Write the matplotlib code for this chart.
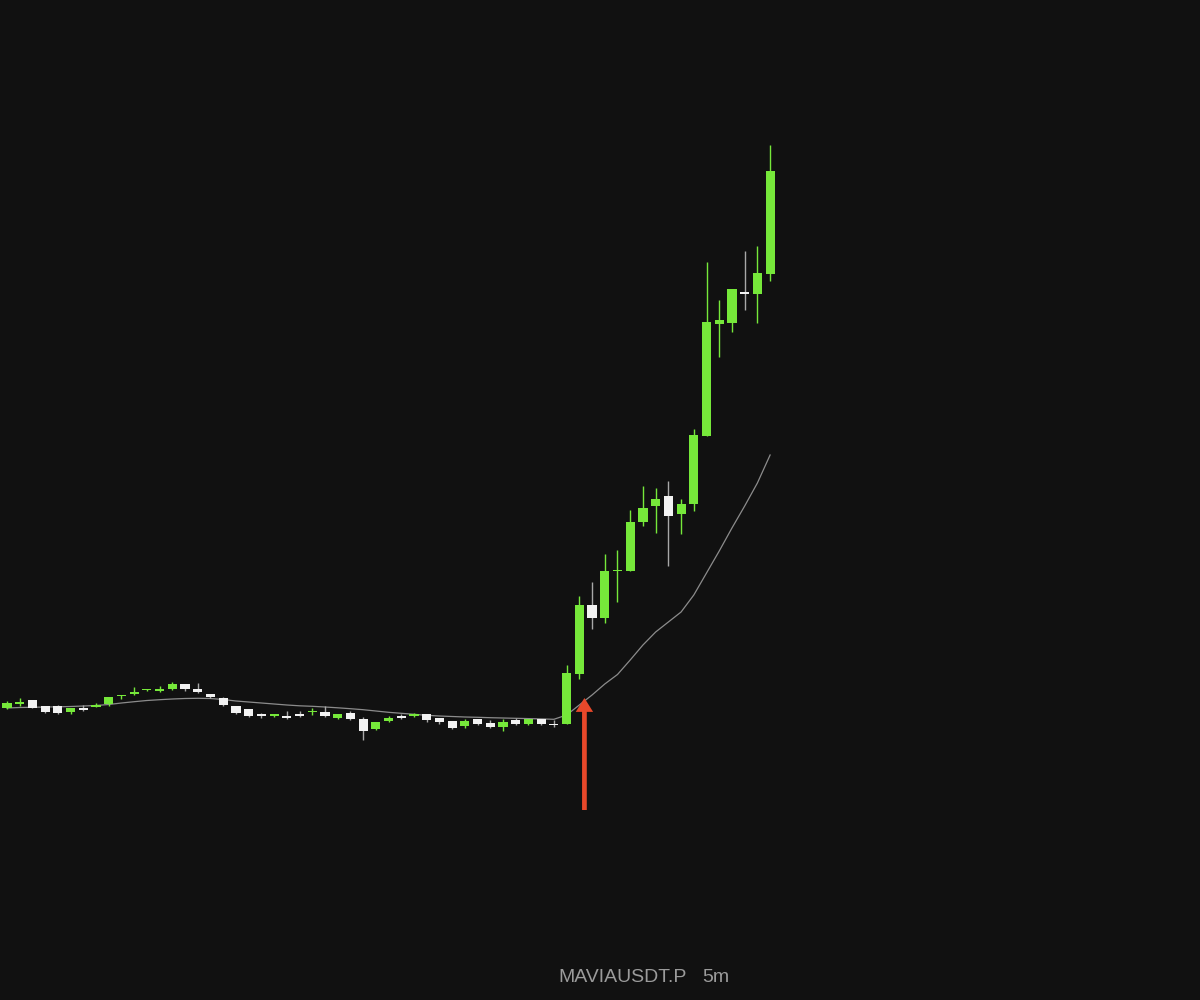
import matplotlib
matplotlib.use("Agg")
import matplotlib.pyplot as plt
from matplotlib.patches import FancyArrowPatch
import numpy as np

# 5m candles, MAVIAUSDT.P (prices)
opens = [0.292, 0.296, 0.300, 0.294, 0.294, 0.288, 0.292, 0.293, 0.296, 0.304,
         0.306, 0.310, 0.309, 0.311, 0.316, 0.311, 0.306, 0.302, 0.294, 0.291,
         0.286, 0.284, 0.284, 0.286, 0.288, 0.288, 0.282, 0.287, 0.281, 0.271,
         0.279, 0.284, 0.284, 0.286, 0.282, 0.279, 0.274, 0.281, 0.277, 0.273,
         0.280, 0.276, 0.281, 0.276, 0.276, 0.326, 0.395, 0.382, 0.429, 0.429,
         0.478, 0.494, 0.504, 0.486, 0.496, 0.564, 0.676, 0.677, 0.708, 0.706,
         0.726]
highs = [0.299, 0.302, 0.300, 0.294, 0.295, 0.292, 0.295, 0.297, 0.303, 0.3055,
         0.313, 0.311, 0.314, 0.318, 0.316, 0.317, 0.306, 0.303, 0.294, 0.291,
         0.2875, 0.286, 0.289, 0.2895, 0.2925, 0.294, 0.286, 0.289, 0.283, 0.278,
         0.284, 0.286, 0.2875, 0.286, 0.282, 0.279, 0.281, 0.281, 0.280, 0.281,
         0.282, 0.281, 0.281, 0.280, 0.335, 0.404, 0.418, 0.446, 0.450, 0.490,
         0.514, 0.512, 0.519, 0.501, 0.571, 0.738, 0.700, 0.711, 0.749, 0.754,
         0.855]
lows = [0.2915, 0.294, 0.292, 0.287, 0.2865, 0.286, 0.2895, 0.293, 0.294, 0.301,
        0.305, 0.309, 0.3085, 0.3105, 0.309, 0.3075, 0.3025, 0.2945, 0.2865, 0.2835,
        0.2825, 0.283, 0.2815, 0.2835, 0.285, 0.2835, 0.2815, 0.2805, 0.260, 0.270,
        0.278, 0.281, 0.2835, 0.278, 0.2765, 0.2715, 0.2725, 0.275, 0.2725, 0.269,
        0.2755, 0.2755, 0.275, 0.273, 0.276, 0.321, 0.371, 0.377, 0.398, 0.429,
        0.474, 0.467, 0.434, 0.466, 0.489, 0.564, 0.643, 0.668, 0.690, 0.677,
        0.719]
closes = [0.297, 0.298, 0.292, 0.288, 0.287, 0.292, 0.290, 0.295, 0.303, 0.305,
          0.308, 0.311, 0.311, 0.316, 0.311, 0.308, 0.303, 0.295, 0.287, 0.284,
          0.284, 0.286, 0.282, 0.284, 0.289, 0.284, 0.286, 0.281, 0.269, 0.278,
          0.282, 0.282, 0.286, 0.280, 0.278, 0.272, 0.279, 0.276, 0.273, 0.278,
          0.276, 0.281, 0.276, 0.275, 0.327, 0.395, 0.382, 0.429, 0.430, 0.478,
          0.492, 0.501, 0.484, 0.496, 0.565, 0.678, 0.680, 0.711, 0.706, 0.727,
          0.829]
# moving average overlay
ma = [0.292, 0.2925, 0.2927, 0.293, 0.2932, 0.2935, 0.294, 0.2945, 0.2955, 0.297,
      0.2983, 0.2995, 0.3003, 0.301, 0.3015, 0.3017, 0.3015, 0.3005, 0.299, 0.298,
      0.297, 0.296, 0.295, 0.2942, 0.2937, 0.293, 0.2922, 0.2913, 0.2903, 0.289,
      0.2877, 0.2867, 0.2857, 0.2847, 0.284, 0.2835, 0.283, 0.2827, 0.2823, 0.282,
      0.2817, 0.2814, 0.2811, 0.2807, 0.285, 0.295, 0.305, 0.316, 0.3255, 0.340,
      0.355, 0.368, 0.378, 0.388, 0.405, 0.427, 0.449, 0.472, 0.494, 0.517,
      0.545]
symbol = "MAVIAUSDT.P"
interval = "5m"
signal_bar = 45.4  # where the arrow points

BG = "#111111"
UP = "#76e83a"
DOWN = "#f2f2f2"

o, h, l, c = map(np.array, (opens, highs, lows, closes))
x = np.arange(len(o))
up = c >= o

fig = plt.figure(figsize=(12, 10), dpi=100, facecolor=BG)
ax = fig.add_axes([0, 0, 1, 1])
ax.set_facecolor(BG)

# wicks then bodies
ax.vlines(x[up], l[up], h[up], color=UP, lw=1.0, zorder=2)
ax.vlines(x[~up], l[~up], h[~up], color="#a8a8a8", lw=1.0, zorder=2)
body_lo = np.minimum(o, c)
body_h = np.maximum(np.abs(c - o), 0.0015)
ax.bar(x[up], body_h[up], 0.72, bottom=body_lo[up], color=UP, lw=0, zorder=3)
ax.bar(x[~up], body_h[~up], 0.72, bottom=body_lo[~up], color=DOWN, lw=0, zorder=3)

ax.plot(x, ma, color="#8c8c8c", lw=0.9, zorder=1)

arrow = FancyArrowPatch((signal_bar, 0.190), (signal_bar, 0.302),
                        arrowstyle="simple,tail_width=0.34,head_width=1.25,head_length=1.0",
                        mutation_scale=10, color="#e8482a", lw=0,
                        shrinkA=0, shrinkB=0, zorder=4)
ax.add_patch(arrow)

ax.set_xlim(-0.55, 93.8)
ax.set_ylim(0, 1)
ax.axis("off")

fig.text(0.465, 0.022, symbol, color="#9b9b9b", fontsize=14,
         family="Liberation Sans", ha="left", va="center")
fig.text(0.585, 0.022, interval, color="#9b9b9b", fontsize=14,
         family="Liberation Sans", ha="left", va="center")

fig.savefig("out.png", dpi=100, facecolor=BG)
